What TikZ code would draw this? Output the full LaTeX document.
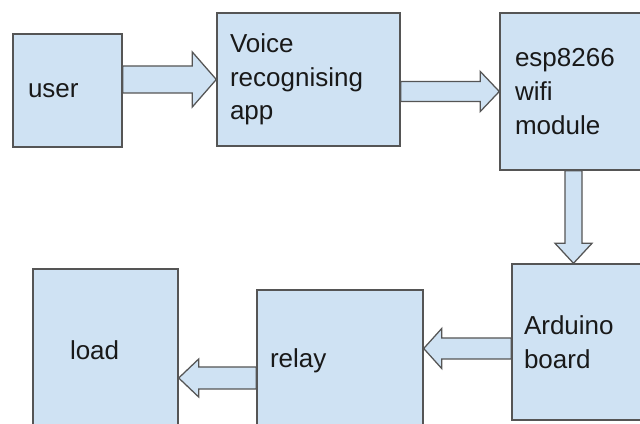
\documentclass[tikz,border=0pt]{standalone}
\usepackage{fontspec}
\setmainfont{Liberation Sans}
\usepackage{xcolor}
\usepackage{tikz}
\usetikzlibrary{calc}

\definecolor{boxblue}{RGB}{207,226,243}
\definecolor{linegray}{RGB}{85,85,85}

\begin{document}
\begin{tikzpicture}
        \tikzstyle{block} = [rectangle, draw=linegray, fill=boxblue, line width=1pt,
            align=left, inner xsep=0.35cm, inner ysep=0pt, text=black!90,
            font=\fontsize{18.5pt}{24pt}\selectfont]
        \tikzset{blockarrow/.style n args={3}{draw=linegray, fill=boxblue, line width=0.9pt,
            to path={($(\tikztotarget)!#3!(\tikztostart)$) coordinate (bh)
              ($(\tikztostart)!#1!90:(\tikztotarget)$) -- ($(bh)!#1!90:(\tikztotarget)$)
              -- ($(bh)!#2!90:(\tikztotarget)$) -- (\tikztotarget)
              -- ($(bh)!#2!-90:(\tikztotarget)$) -- ($(bh)!#1!-90:(\tikztotarget)$)
              -- ($(\tikztostart)!#1!-90:(\tikztotarget)$) -- cycle}}}

        \clip (0,0) rectangle (16,10.6);

        \node [block, minimum width=2.725cm, minimum height=2.825cm, text width=1.975cm,
            inner xsep=0.375cm] (user) at (1.6875,8.3375) {user};
        \node [block, minimum width=4.575cm, minimum height=3.325cm, text width=3.925cm,
            inner xsep=0.325cm] (voice) at (7.7125,8.6125) {Voice\\recognising\\app};
        \node [block, minimum width=3.675cm, minimum height=3.925cm, text width=2.925cm,
            inner xsep=0.375cm] (esp) at (14.3375,8.3125) {esp8266\\wifi\\module};
        \node [block, minimum width=4cm, minimum height=3.9cm, text width=3.4cm,
            inner xsep=0.3cm] (arduino) at (14.8,2.05) {Arduino\\board};
        \node [block, minimum width=4.15cm, minimum height=3.55cm, text width=3.5cm,
            inner xsep=0.325cm] (relay) at (8.5,1.575) {relay};
        \node [block, minimum width=3.625cm, minimum height=4.05cm, text width=1.775cm,
            inner xsep=0.925cm] (load) at (2.6375,1.85) {load};

        \coordinate (a4) at ([yshift=-0.1625cm]arduino.west);
        \coordinate (a5) at ([yshift=-0.425cm]relay.west);

        \path [blockarrow={0.3375cm}{0.6875cm}{0.6cm}] (user.east |- voice.west) to (voice.west);
        \path [blockarrow={0.25cm}{0.5cm}{0.475cm}] (voice.east |- esp.west) to (esp.west);
        \path [blockarrow={0.2125cm}{0.4625cm}{0.5cm}] (esp.south) to (esp.south |- arduino.north);
        \path [blockarrow={0.2625cm}{0.5cm}{0.45cm}] (a4) to (a4 -| relay.east);
        \path [blockarrow={0.275cm}{0.475cm}{0.5cm}] (a5) to (a5 -| load.east);
      \end{tikzpicture}
\end{document}
